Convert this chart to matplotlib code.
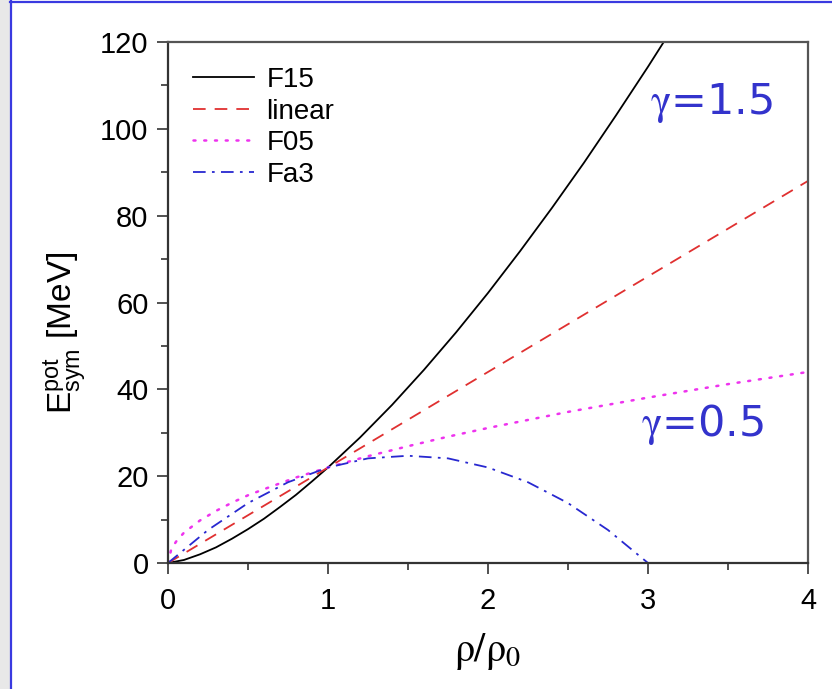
import matplotlib
matplotlib.use("Agg")
import matplotlib.pyplot as plt
from matplotlib.patches import Rectangle
from matplotlib.lines import Line2D
from matplotlib.ticker import MultipleLocator

plt.rcParams['font.family'] = ['Liberation Sans', 'DejaVu Sans']
plt.rcParams['mathtext.fontset'] = 'stix'

# values
u_f15 = [0, 0.1, 0.2, 0.3, 0.4, 0.5, 0.6, 0.7, 0.8, 0.9, 1.0, 1.2, 1.4, 1.6,
         1.8, 2.0, 2.2, 2.4, 2.6, 2.8, 3.0, 3.2]
e_f15 = [0, 0.7, 2.0, 3.6, 5.6, 7.8, 10.2, 12.9, 15.7, 18.8, 22.0, 28.9, 36.4,
         44.5, 53.1, 62.2, 71.8, 81.8, 92.2, 103.1, 114.3, 125.9]

u_lin = [0, 1, 2, 3, 4]
e_lin = [0, 22, 44, 66, 88]

u_f05 = [0, 0.02, 0.05, 0.1, 0.2, 0.3, 0.4, 0.5, 0.6, 0.8, 1.0, 1.25, 1.5,
         1.75, 2.0, 2.5, 3.0, 3.5, 4.0]
e_f05 = [0, 3.1, 4.9, 7.0, 9.8, 12.0, 13.9, 15.6, 17.0, 19.7, 22.0, 24.6, 26.9,
         29.1, 31.1, 34.8, 38.1, 41.2, 44.0]

u_fa3 = [0, 0.25, 0.5, 0.75, 1.0, 1.25, 1.5, 1.75, 2.0, 2.25, 2.5, 2.75, 3.0]
e_fa3 = [0, 7.6, 13.8, 18.6, 22.0, 24.1, 24.7, 24.1, 22.0, 18.6, 13.8, 7.6, 0]

fig = plt.figure(figsize=(8.32, 6.89), dpi=100)
fig.patch.set_facecolor('white')

# page frame: grey strip on the left, blue rules top and left
fig.add_artist(Rectangle((0, 0), 10 / 832, 1, transform=fig.transFigure,
                         facecolor='#e8e8e8', edgecolor='none'))
fig.add_artist(Line2D([10.5 / 832, 10.5 / 832], [0, 1], transform=fig.transFigure,
                      color='#3a3ae0', lw=1.6))
fig.add_artist(Line2D([10 / 832, 1], [1 - 1.5 / 689, 1 - 1.5 / 689],
                      transform=fig.transFigure, color='#3a3ae0', lw=1.6))

ax = fig.add_axes([168 / 832, 1 - 563 / 689, 640 / 832, 521 / 689])

ax.plot(u_f15, e_f15, color='black', lw=1.3, label='F15')
ax.plot(u_lin, e_lin, color='#e03030', lw=1.3, ls=(0, (7, 5)), label='linear')
ax.plot(u_f05, e_f05, color='#ee33ee', lw=1.8, ls=(0, (0.8, 3.5)),
        dash_capstyle='round', label='F05')
ax.plot(u_fa3, e_fa3, color='#2828d0', lw=1.3, ls=(0, (7, 3.5, 1.5, 3.5)), label='Fa3')

ax.set_xlim(0, 4)
ax.set_ylim(0, 120)
ax.xaxis.set_major_locator(MultipleLocator(1))
ax.xaxis.set_minor_locator(MultipleLocator(0.5))
ax.yaxis.set_major_locator(MultipleLocator(20))
ax.yaxis.set_minor_locator(MultipleLocator(10))
ax.tick_params(which='major', direction='out', length=8, width=1.2,
               labelsize=21, color='#333333', pad=6)
ax.tick_params(axis='x', which='major', pad=9)
ax.tick_params(which='minor', direction='out', length=5, width=1.2, color='#333333')
for s in ['left', 'bottom']:
    ax.spines[s].set_linewidth(1.6)
    ax.spines[s].set_color('#333333')
for s in ['top', 'right']:
    ax.spines[s].set_linewidth(1.6)
    ax.spines[s].set_color('#555555')

fig.text(65 / 832, 1 - 333 / 689, r'$\mathregular{E_{sym}^{pot}}$ [MeV]',
         fontsize=24, rotation=90, ha='center', va='center')
ax.set_xlabel(r'$\mathrm{\rho/\rho_0}$', fontsize=29, labelpad=12)

leg = ax.legend(loc='upper left', frameon=False, fontsize=20, handlelength=2.2,
                handletextpad=0.45, labelspacing=0.2, borderaxespad=0.5,
                bbox_to_anchor=(0.0, 1.0))

ax.text(3.4, 106, r'$\mathrm{\gamma}$=1.5', color='#3333cc', fontsize=31,
        family='DejaVu Sans', ha='center', va='center')
ax.text(3.34, 32, r'$\mathrm{\gamma}$=0.5', color='#3333cc', fontsize=31,
        family='DejaVu Sans', ha='center', va='center')

fig.savefig('out.png', dpi=100)
